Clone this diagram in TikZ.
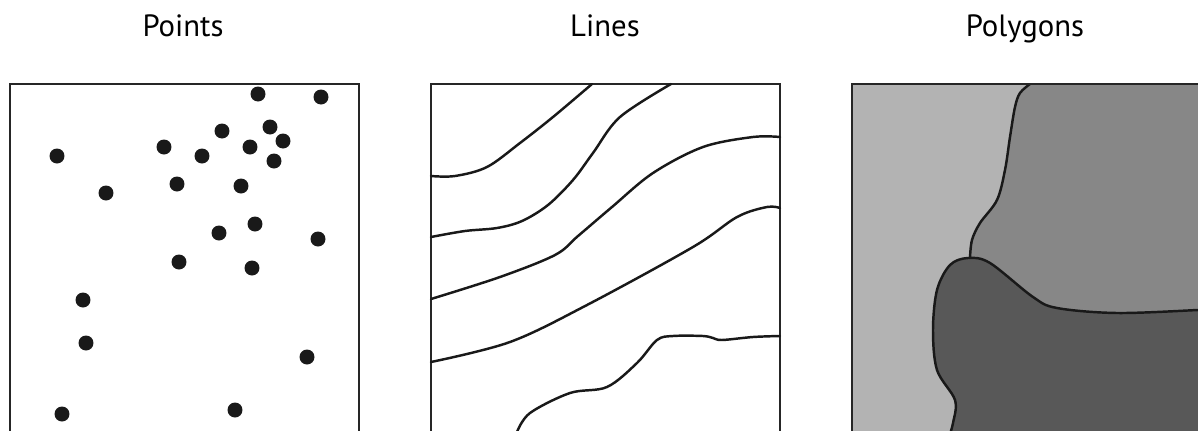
\documentclass[tikz,border=0pt]{standalone}
\usepackage{fontspec}
\setmainfont{PT Sans}
\usepackage{tikz}
\definecolor{Frame}{HTML}{262626}
\definecolor{LightGrey}{HTML}{B3B3B3}
\definecolor{MidGrey}{HTML}{878787}
\definecolor{DarkGrey}{HTML}{585858}

\begin{document}
\begin{tikzpicture}[x=0.02cm,y=-0.02cm,
		title/.style={font=\fontsize{17.5}{20}\selectfont, anchor=base},
		frame/.style={draw=Frame, line width=1.3pt},
		contour/.style={draw=black!90, line width=1.4pt, line cap=round, smooth, tension=0.55},
		dot/.style={fill=black!90}]
	\useasboundingbox (0,0) rectangle (1198,430);
	\clip (0,0) rectangle (1198,430);
	
	% titles
	\node[title] (ptitle) at (183,36) {Points};
	\node[title] (ltitle) at (605,36) {Lines};
	\node[title] (gtitle) at (1025,36) {Polygons};
	
	% points
	\draw[frame] (10,440) -- (10,84) -- (359,84) -- (359,440);
	\foreach \x/\y in {258/94, 321/97, 270/127, 222/131, 283/141, 164/147,
		250/147, 57/156, 202/156, 274/161, 177/184, 241/186, 106/193,
		255/224, 219/233, 318/239, 179/262, 252/268, 83/300, 86/343,
		307/357, 62/414, 235/410}
	\fill[dot] (\x,\y) circle (0.15cm);
	
	% lines
	\draw[frame] (431,440) -- (431,84) -- (780,84) -- (780,440);
	\draw[contour] plot coordinates {(431,176) (455,176) (487,167) (520,143) (553,117) (592,84)};
	\draw[contour] plot coordinates {(431,237) (465,231) (497,228) (522,221) (548,205) (573,180) (593,153) (620,117) (671,84)};
	\draw[contour] plot coordinates {(431,299) (500,277) (555,255) (578,236) (612,207) (653,173) (703,147) (753,137) (780,137)};
	\draw[contour] plot coordinates {(431,362) (510,342) (587,305) (693,247) (737,217) (767,207) (780,208)};
	\draw[contour] plot coordinates {(517,432) (530,413) (570,393) (607,387) (637,363) (657,340) (673,336) (703,336) (713,338) (722,340) (753,337) (780,336)};
	
	% polygons
	\fill[LightGrey] (852,84) rectangle (1210,440);
	\fill[MidGrey] plot[smooth, tension=0.55] coordinates {(1030,84) (1020,93) (1015,107) (1010,137) (1005,170) (997,200) (980,223) (972,240) (970,258)}
		-- (975,340) -- (1210,340) -- (1210,84) -- cycle;
	\fill[DarkGrey] plot[smooth, tension=0.55] coordinates {(948,440) (953,423) (955,400) (937,370) (933,330) (937,290) (950,265) (968,258) (990,263) (1033,297) (1057,308) (1117,313) (1198,310) (1210,309)}
		-- (1210,440) -- cycle;
	\draw[contour] plot coordinates {(1030,84) (1020,93) (1015,107) (1010,137) (1005,170) (997,200) (980,223) (972,240) (970,258)};
	\draw[contour] plot coordinates {(948,440) (953,423) (955,400) (937,370) (933,330) (937,290) (950,265) (968,258) (990,263) (1033,297) (1057,308) (1117,313) (1198,310) (1210,309)};
	\draw[frame] (852,440) -- (852,84) -- (1210,84);
\end{tikzpicture}
\end{document}
